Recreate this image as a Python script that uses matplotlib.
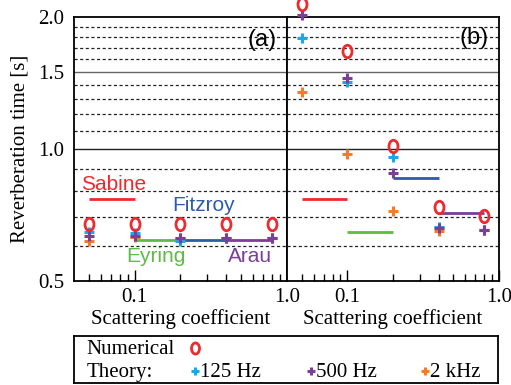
import numpy as np
import matplotlib.pyplot as plt
from matplotlib.path import Path
from matplotlib.transforms import Affine2D
from matplotlib.ticker import FixedLocator, NullFormatter, NullLocator

# scattering coefficients where everything was evaluated
scatter = [0.05, 0.1, 0.2, 0.4, 0.8]

# (a) reverberation times [s]
num_a = [0.675, 0.675, 0.675, 0.675, 0.675]
t125_a = [0.647, 0.642, 0.615, 0.625, 0.625]
t500_a = [0.633, 0.631, 0.625, 0.625, 0.625]
t2k_a = [0.615, 0.628, 0.625, 0.625, 0.625]

# (b) reverberation times [s]
num_b = [2.14, 1.67, 1.017, 0.738, 0.703]
t125_b = [1.79, 1.42, 0.96, 0.664, 0.653]
t500_b = [2.02, 1.45, 0.88, 0.66, 0.653]
t2k_b = [1.35, 0.975, 0.72, 0.65, 0.653]

# classical formulas, drawn as short segments over a scattering span
formulas = ['Sabine', 'Eyring', 'Fitzroy', 'Arau']
spans = [(0.05, 0.1), (0.1, 0.2), (0.2, 0.4), (0.4, 0.8)]
formula_a = [0.77, 0.62, 0.62, 0.62]
formula_b = [0.77, 0.645, 0.86, 0.715]

RED = '#ee2a2e'
CYAN = '#1ea7e8'
PURPLE = '#7b3f98'
ORANGE = '#f47b2a'
FCOL = {'Sabine': '#ee2a2e', 'Eyring': '#5fba46', 'Fitzroy': '#2e5ca8', 'Arau': '#7b3f98'}

SERIF = 'Liberation Serif'
SANS = 'Liberation Sans'

# tall open "O" marker
ring = Path.unit_circle().transformed(Affine2D().scale(0.72, 1.0))

fig = plt.figure(figsize=(5.11, 3.85), dpi=100)
ax_a = fig.add_axes([0.1448, 0.2709, 0.4168, 0.6849])
ax_b = fig.add_axes([0.5616, 0.2709, 0.4149, 0.6849])

plus_kw = dict(ls='none', marker='+', ms=7, mew=2.2, clip_on=False)
ring_kw = dict(ls='none', marker=ring, ms=9, mew=2.0, mfc='none', mec=RED,
               clip_on=False, zorder=6)


def draw_panel(ax, num, t125, t2k, t500, fvals):
    ax.set_xscale('log')
    ax.set_yscale('log')
    ax.set_xlim(0.04, 1.0)
    ax.set_ylim(0.5, 2.0)

    # horizontal guides
    for v in [0.6, 0.7, 0.8, 0.9, 1.1, 1.2, 1.3, 1.4, 1.6, 1.7, 1.8, 1.9]:
        ax.axhline(v, color='#222222', lw=0.9, ls=(0, (2.5, 2)), zorder=1)
    ax.axhline(1.0, color='#222222', lw=1.0, zorder=1)
    ax.axhline(1.5, color='#666666', lw=1.0, zorder=1)

    for name, (x0, x1), v in zip(formulas, spans, fvals):
        ax.plot([x0, x1], [v, v], color=FCOL[name], lw=2.0, solid_capstyle='butt', zorder=3)

    ax.plot(scatter, t125, color=CYAN, zorder=4, **plus_kw)
    ax.plot(scatter, t2k, color=ORANGE, zorder=4, **plus_kw)
    ax.plot(scatter, t500, color=PURPLE, zorder=5, **plus_kw)
    ax.plot(scatter, num, **ring_kw)

    ax.xaxis.set_major_locator(FixedLocator([0.1, 1.0]))
    ax.xaxis.set_minor_locator(FixedLocator(
        [0.05, 0.06, 0.07, 0.08, 0.09, 0.2, 0.3, 0.4, 0.5, 0.6, 0.7, 0.8, 0.9]))
    ax.xaxis.set_minor_formatter(NullFormatter())
    ax.set_xticklabels(['0.1', '1.0'], fontfamily=SERIF, fontsize=15)
    ax.tick_params(axis='x', which='major', direction='in', length=8, width=1, top=False, pad=5)
    ax.tick_params(axis='x', which='minor', direction='in', length=5, width=1, top=False)
    ax.set_xlabel('Scattering coefficient', fontfamily=SERIF, fontsize=15, labelpad=2)
    for s in ax.spines.values():
        s.set_linewidth(1.3)


draw_panel(ax_a, num_a, t125_a, t2k_a, t500_a, formula_a)
draw_panel(ax_b, num_b, t125_b, t2k_b, t500_b, formula_b)

ax_a.yaxis.set_major_locator(FixedLocator([0.5, 1.0, 1.5, 2.0]))
ax_a.yaxis.set_minor_locator(NullLocator())
ax_a.set_yticklabels(['0.5', '1.0', '1.5', '2.0'], fontfamily=SERIF, fontsize=15)
ax_a.tick_params(axis='y', length=0, pad=7)
ax_a.set_ylabel('Reverberation time [s]', fontfamily=SERIF, fontsize=15, labelpad=6)

ax_b.yaxis.set_major_locator(NullLocator())
ax_b.yaxis.set_minor_locator(NullLocator())

# formula names inside (a)
lab_kw = dict(transform=ax_a.transAxes, fontfamily=SANS, fontsize=15, ha='center', va='center')
ax_a.text(0.188, 0.363, 'Sabine', color=FCOL['Sabine'], **lab_kw)
ax_a.text(0.607, 0.287, 'Fitzroy', color=FCOL['Fitzroy'], **lab_kw)
ax_a.text(0.384, 0.091, 'Eyring', color=FCOL['Eyring'], **lab_kw)
ax_a.text(0.825, 0.091, 'Arau', color=FCOL['Arau'], **lab_kw)

ax_a.text(0.885, 0.913, '(a)', transform=ax_a.transAxes, fontfamily=SANS, fontsize=17,
          ha='center', va='center')
ax_b.text(0.882, 0.92, '(b)', transform=ax_b.transAxes, fontfamily=SANS, fontsize=17,
          ha='center', va='center')

# key box underneath
lax = fig.add_axes([0.1448, 0.004, 0.8297, 0.122])
lax.set_xlim(0, 1)
lax.set_ylim(0, 1)
lax.set_xticks([])
lax.set_yticks([])
for s in lax.spines.values():
    s.set_linewidth(1.3)
key_kw = dict(fontfamily=SERIF, fontsize=15, va='center')
lax.text(0.03, 0.72, 'Numerical', **key_kw)
lax.text(0.03, 0.24, 'Theory:', **key_kw)
lax.plot([0.285], [0.76], ls='none', marker=ring, ms=8, mew=2.0, mfc='none', mec=RED)
for x, c, lab in [(0.285, CYAN, '125 Hz'), (0.558, PURPLE, '500 Hz'), (0.828, ORANGE, '2 kHz')]:
    lax.plot([x], [0.27], ls='none', marker='+', ms=6, mew=2.2, color=c)
    lax.text(x + 0.012, 0.24, lab, **key_kw)

fig.savefig('out.png', dpi=100)
